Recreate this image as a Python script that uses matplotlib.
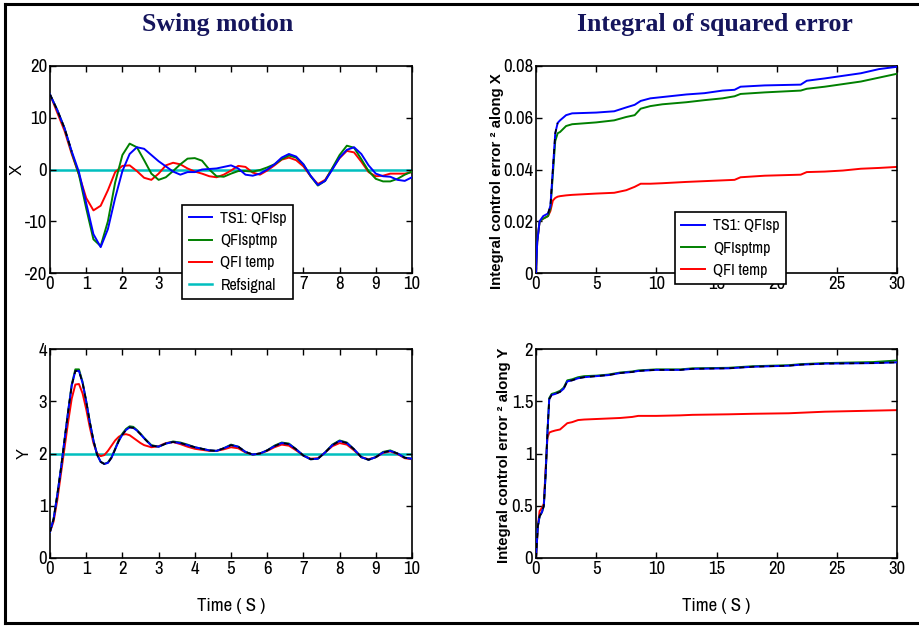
import matplotlib
matplotlib.use("Agg")
import matplotlib.pyplot as plt
from matplotlib.lines import Line2D

# ---------------- data ----------------
series_names = ["TS1: QFIsp", "QFIsptmp", "QFI temp", "Refsignal"]

# Swing motion along X (0..10 s, 0.2 s step)
t_x = [round(0.2 * i, 1) for i in range(51)]
x_qfisp = [14.5, 11.5, 8.0, 3.5, -0.5, -6.5, -12.5, -15.0, -11.5, -5.5,
           -0.3, 3.0, 4.3, 4.0, 2.8, 1.6, 0.6, -0.4, -1.0, -0.5,
           -0.5, 0.0, 0.1, 0.2, 0.5, 0.8, 0.2, -1.0, -1.2, -0.8,
           0.0, 1.0, 2.3, 3.0, 2.5, 1.0, -1.2, -3.0, -2.2, 0.0,
           2.3, 3.8, 4.3, 3.0, 0.8, -0.8, -1.3, -1.4, -2.0, -2.2, -1.5]
x_qfisptmp = [14.5, 11.5, 8.0, 3.3, -1.0, -7.5, -13.5, -14.8, -10.0, -2.5,
              2.8, 5.0, 4.3, 1.8, -0.8, -2.0, -1.5, -0.3, 1.0, 2.1,
              2.2, 1.7, 0.0, -1.3, -1.4, -0.8, -0.3, -0.3, -0.4, -0.1,
              0.4, 1.0, 2.0, 2.7, 2.3, 1.0, -1.3, -3.1, -2.2, 0.3,
              2.8, 4.6, 4.2, 2.0, -0.3, -1.8, -2.3, -2.3, -1.8, -1.0, -0.4]
x_qfitemp = [14.5, 11.0, 7.5, 3.0, -1.0, -5.5, -7.9, -7.0, -4.0, -0.5,
             0.7, 0.8, -0.3, -1.6, -2.0, -0.8, 0.8, 1.3, 1.0, 0.2,
             -0.4, -0.8, -1.3, -1.5, -1.0, -0.2, 0.7, 0.5, -0.6, -1.0,
             -0.2, 0.8, 1.9, 2.3, 1.8, 0.6, -1.3, -2.8, -2.0, 0.2,
             2.2, 3.6, 3.3, 1.5, -0.5, -1.3, -1.2, -0.8, -0.8, -0.8, -0.5]
t_ref = [0, 10]
x_ref = [0, 0]

# Swing motion along Y
t_y = ([round(0.1 * i, 1) for i in range(27)]
       + [round(2.8 + 0.2 * i, 1) for i in range(37)])
y_qfisp = [0.50, 0.75, 1.20, 1.70, 2.25, 2.80, 3.30, 3.58, 3.58, 3.35,
           3.00, 2.60, 2.25, 1.98, 1.84, 1.80, 1.82, 1.92, 2.08, 2.24,
           2.36, 2.45, 2.50, 2.49, 2.44, 2.37, 2.29,
           2.15, 2.13, 2.19, 2.22, 2.20, 2.16, 2.12, 2.09, 2.06, 2.05,
           2.10, 2.16, 2.13, 2.03, 1.98, 2.00, 2.06, 2.14, 2.20, 2.18,
           2.08, 1.96, 1.89, 1.90, 2.02, 2.16, 2.24, 2.20, 2.08, 1.93,
           1.88, 1.93, 2.02, 2.05, 2.00, 1.92, 1.90]
y_qfisptmp = [0.50, 0.75, 1.20, 1.70, 2.25, 2.80, 3.32, 3.61, 3.61, 3.37,
              3.00, 2.60, 2.25, 1.98, 1.84, 1.80, 1.83, 1.93, 2.09, 2.26,
              2.38, 2.47, 2.52, 2.51, 2.45, 2.38, 2.30,
              2.16, 2.13, 2.19, 2.23, 2.21, 2.17, 2.12, 2.09, 2.06, 2.05,
              2.10, 2.17, 2.13, 2.03, 1.98, 2.00, 2.06, 2.15, 2.21, 2.19,
              2.08, 1.96, 1.89, 1.90, 2.02, 2.17, 2.25, 2.21, 2.08, 1.93,
              1.88, 1.93, 2.03, 2.06, 2.00, 1.92, 1.90]
y_qfitemp = [0.50, 0.70, 1.10, 1.60, 2.10, 2.60, 3.05, 3.32, 3.33, 3.15,
             2.85, 2.50, 2.20, 2.00, 1.95, 1.97, 2.05, 2.15, 2.25, 2.32,
             2.36, 2.37, 2.35, 2.30, 2.25, 2.20, 2.16,
             2.12, 2.14, 2.20, 2.22, 2.18, 2.13, 2.09, 2.07, 2.05, 2.05,
             2.08, 2.12, 2.10, 2.02, 1.98, 2.00, 2.05, 2.12, 2.17, 2.15,
             2.06, 1.96, 1.90, 1.91, 2.02, 2.14, 2.20, 2.17, 2.06, 1.93,
             1.89, 1.93, 2.01, 2.04, 1.99, 1.91, 1.89]
y_ref = [2, 2]

# Integral of squared error along X (0..30 s)
t_ix = [0, 0.1, 0.3, 0.6, 1.0, 1.2, 1.4, 1.6, 1.8, 2.0, 2.5, 3.0, 5.0, 6.5,
        7.5, 8.2, 8.7, 9.5, 10.5, 12.5, 14.0, 15.5, 16.5, 17.0, 19.0, 22.0,
        22.5, 24.0, 25.5, 27.0, 28.5, 30.0]
ix_qfisp = [0, 0.012, 0.020, 0.022, 0.023, 0.026, 0.040, 0.054, 0.058, 0.059,
            0.061, 0.0617, 0.062, 0.0625, 0.064, 0.065, 0.0665, 0.0675, 0.068,
            0.069, 0.0695, 0.0705, 0.0708, 0.072, 0.0725, 0.0728, 0.0743,
            0.0752, 0.0762, 0.0772, 0.0788, 0.0797]
ix_qfisptmp = [0, 0.012, 0.020, 0.021, 0.022, 0.025, 0.038, 0.051, 0.054,
               0.0545, 0.0568, 0.0575, 0.0582, 0.059, 0.0603, 0.061, 0.0635,
               0.0645, 0.0652, 0.066, 0.0668, 0.0675, 0.0683, 0.0692, 0.0698,
               0.0705, 0.0712, 0.072, 0.073, 0.074, 0.0755, 0.077]
ix_qfitemp = [0, 0.012, 0.020, 0.021, 0.022, 0.024, 0.028, 0.029, 0.0295,
              0.0297, 0.0300, 0.0302, 0.0307, 0.031, 0.032, 0.0333, 0.0345,
              0.0345, 0.0347, 0.0352, 0.0355, 0.0358, 0.036, 0.037, 0.0376,
              0.038, 0.039, 0.0392, 0.0396, 0.0403, 0.0406, 0.041]

# Integral of squared error along Y (0..30 s)
t_iy = [0, 0.15, 0.3, 0.5, 0.65, 0.8, 0.95, 1.1, 1.3, 1.6, 2.0, 2.3, 2.6,
        3.0, 3.5, 4.0, 5.0, 6.0, 7.0, 8.0, 8.5, 10.0, 12.0, 13.0, 16.0, 18.0,
        21.0, 22.0, 24.0, 28.0, 30.0]
iy_qfisp = [0, 0.30, 0.40, 0.44, 0.50, 0.80, 1.20, 1.52, 1.56, 1.57, 1.59,
            1.62, 1.69, 1.70, 1.72, 1.73, 1.74, 1.75, 1.77, 1.78, 1.79, 1.80,
            1.80, 1.81, 1.815, 1.83, 1.84, 1.85, 1.86, 1.865, 1.872]
iy_qfisptmp = [0, 0.30, 0.40, 0.44, 0.50, 0.80, 1.20, 1.53, 1.57, 1.58, 1.60,
               1.63, 1.70, 1.71, 1.73, 1.74, 1.745, 1.755, 1.775, 1.785,
               1.795, 1.805, 1.805, 1.815, 1.82, 1.835, 1.845, 1.855, 1.865,
               1.875, 1.89]
iy_qfitemp = [0, 0.30, 0.45, 0.48, 0.52, 0.85, 1.15, 1.20, 1.21, 1.22, 1.23,
              1.26, 1.29, 1.30, 1.32, 1.325, 1.33, 1.335, 1.34, 1.35, 1.36,
              1.36, 1.365, 1.37, 1.375, 1.38, 1.385, 1.39, 1.40, 1.41, 1.415]

# ---------------- styling ----------------
C_BLUE = "#0000ff"
C_GREEN = "#008000"
C_RED = "#ff0000"
C_CYAN = "#00bfbf"
LW = 1.4

NARROW = ["Archivo Narrow", "Roboto Condensed", "Liberation Sans", "DejaVu Sans"]
TICK_FONT = dict(family=NARROW, size=13.5)
LEG_PROP = dict(family=NARROW, size=11.5)
AXLAB_FONT = dict(family=["Liberation Sans", "DejaVu Sans"], size=12)
TITLE_FONT = dict(family=["Liberation Serif", "DejaVu Serif"], size=18.5,
                  weight="bold", color="#15155c")
YLAB_FONT = dict(family=["Liberation Sans", "DejaVu Sans"], size=10.8,
                 weight="bold")

fig = plt.figure(figsize=(9.19, 6.26), dpi=100)
W, H = 919, 626


def make_axes(x0, y0, x1, y1):
    return fig.add_axes([x0 / W, 1 - y1 / H, (x1 - x0) / W, (y1 - y0) / H])


def style(ax, xlim, ylim, xticks, yticks, yticklabels=None):
    ax.set_xlim(*xlim)
    ax.set_ylim(*ylim)
    ax.set_xticks(xticks)
    ax.set_yticks(yticks)
    ax.set_xticklabels([f"{v:g}" for v in xticks], fontdict=TICK_FONT)
    ax.set_yticklabels(yticklabels if yticklabels else [f"{v:g}" for v in yticks],
                       fontdict=TICK_FONT)
    ax.tick_params(direction="in", top=True, right=True, length=4, width=1,
                   pad=2)
    for s in ax.spines.values():
        s.set_linewidth(1.2)


def overlay(ax, t, v):
    ax.plot(t, v, color="black", lw=1.2, ls=(0, (3, 3)), zorder=5)


def add_legend(ax, handles, labels, anchor):
    leg = ax.legend(handles, labels, loc="upper left", bbox_to_anchor=anchor,
                    prop=LEG_PROP, frameon=True, fancybox=False,
                    edgecolor="black", framealpha=1, handlelength=1.5,
                    handletextpad=0.5, labelspacing=0.45, borderpad=0.4,
                    borderaxespad=0)
    leg.get_frame().set_linewidth(1.2)
    leg.set_zorder(10)
    return leg


ax1 = make_axes(50, 66, 412, 273)
ax2 = make_axes(536, 66, 897, 273)
ax3 = make_axes(50, 349, 412, 558)
ax4 = make_axes(536, 349, 897, 558)

# --- swing motion X ---
ax1.plot(t_ref, x_ref, color=C_CYAN, lw=1.8, zorder=1)
l1, = ax1.plot(t_x, x_qfisp, color=C_BLUE, lw=LW, zorder=4)
l2, = ax1.plot(t_x, x_qfisptmp, color=C_GREEN, lw=LW, zorder=3)
l3, = ax1.plot(t_x, x_qfitemp, color=C_RED, lw=LW, zorder=2)
overlay(ax1, t_x[:4], x_qfisp[:4])
style(ax1, (0, 10), (-20, 20), list(range(0, 11)), [-20, -10, 0, 10, 20])
ax1.set_ylabel("X", fontdict=AXLAB_FONT)
ax1.yaxis.set_label_coords(-0.07, 0.5)
add_legend(ax1, [l1, l2, l3, Line2D([], [], color=C_CYAN, lw=1.8)],
           series_names, (0.365, 0.33))

# --- ISE X ---
m1, = ax2.plot(t_ix, ix_qfisp, color=C_BLUE, lw=LW, zorder=4)
m2, = ax2.plot(t_ix, ix_qfisptmp, color=C_GREEN, lw=LW, zorder=3)
m3, = ax2.plot(t_ix, ix_qfitemp, color=C_RED, lw=LW, zorder=2)
overlay(ax2, t_ix[4:9], ix_qfisp[4:9])
style(ax2, (0, 30), (0, 0.08), [0, 5, 10, 15, 20, 25, 30],
      [0, 0.02, 0.04, 0.06, 0.08], ["0", "0.02", "0.04", "0.06", "0.08"])
ax2.set_ylabel("Integral control error ² along X", fontdict=YLAB_FONT)
ax2.yaxis.set_label_coords(-0.089, 0.445)
add_legend(ax2, [m1, m2, m3], series_names[:3], (0.385, 0.295))

# --- swing motion Y ---
ax3.plot(t_ref, y_ref, color=C_CYAN, lw=1.8, zorder=1)
ax3.plot(t_y, y_qfisptmp, color=C_GREEN, lw=LW, zorder=3)
ax3.plot(t_y, y_qfisp, color=C_BLUE, lw=LW, zorder=4)
ax3.plot(t_y, y_qfitemp, color=C_RED, lw=LW, zorder=2)
overlay(ax3, t_y, y_qfisp)
style(ax3, (0, 10), (0, 4), list(range(0, 11)), [0, 1, 2, 3, 4])
ax3.set_ylabel("Y", fontdict=AXLAB_FONT)
ax3.yaxis.set_label_coords(-0.05, 0.5)
ax3.set_xlabel("Time ( S )", fontdict=TICK_FONT)
ax3.xaxis.set_label_coords(0.5, -0.19)

# --- ISE Y ---
ax4.plot(t_iy, iy_qfisptmp, color=C_GREEN, lw=LW, zorder=3)
ax4.plot(t_iy, iy_qfisp, color=C_BLUE, lw=LW, zorder=4)
ax4.plot(t_iy, iy_qfitemp, color=C_RED, lw=LW, zorder=2)
overlay(ax4, t_iy, iy_qfisp)
style(ax4, (0, 30), (0, 2), [0, 5, 10, 15, 20, 25, 30],
      [0, 0.5, 1, 1.5, 2])
ax4.set_ylabel("Integral control error ² along Y", fontdict=YLAB_FONT)
ax4.yaxis.set_label_coords(-0.069, 0.49)
ax4.set_xlabel("Time ( S )", fontdict=TICK_FONT)
ax4.xaxis.set_label_coords(0.5, -0.19)

# --- panel titles ---
fig.text(218 / W, 1 - 25 / H, "Swing motion", ha="center", va="center",
         **TITLE_FONT)
fig.text(715 / W, 1 - 25 / H, "Integral of squared error", ha="center",
         va="center", **TITLE_FONT)

# --- outer frame (left, top, bottom edges) ---
frame_kw = dict(color="black", lw=2.2, transform=fig.transFigure)
fig.add_artist(Line2D([5 / W, 5 / W], [1 - 4 / H, 1 - 623 / H], **frame_kw))
fig.add_artist(Line2D([5 / W, 1.0], [1 - 4 / H, 1 - 4 / H], **frame_kw))
fig.add_artist(Line2D([5 / W, 1.0], [1 - 623 / H, 1 - 623 / H], **frame_kw))

fig.savefig("out.png", dpi=100)
